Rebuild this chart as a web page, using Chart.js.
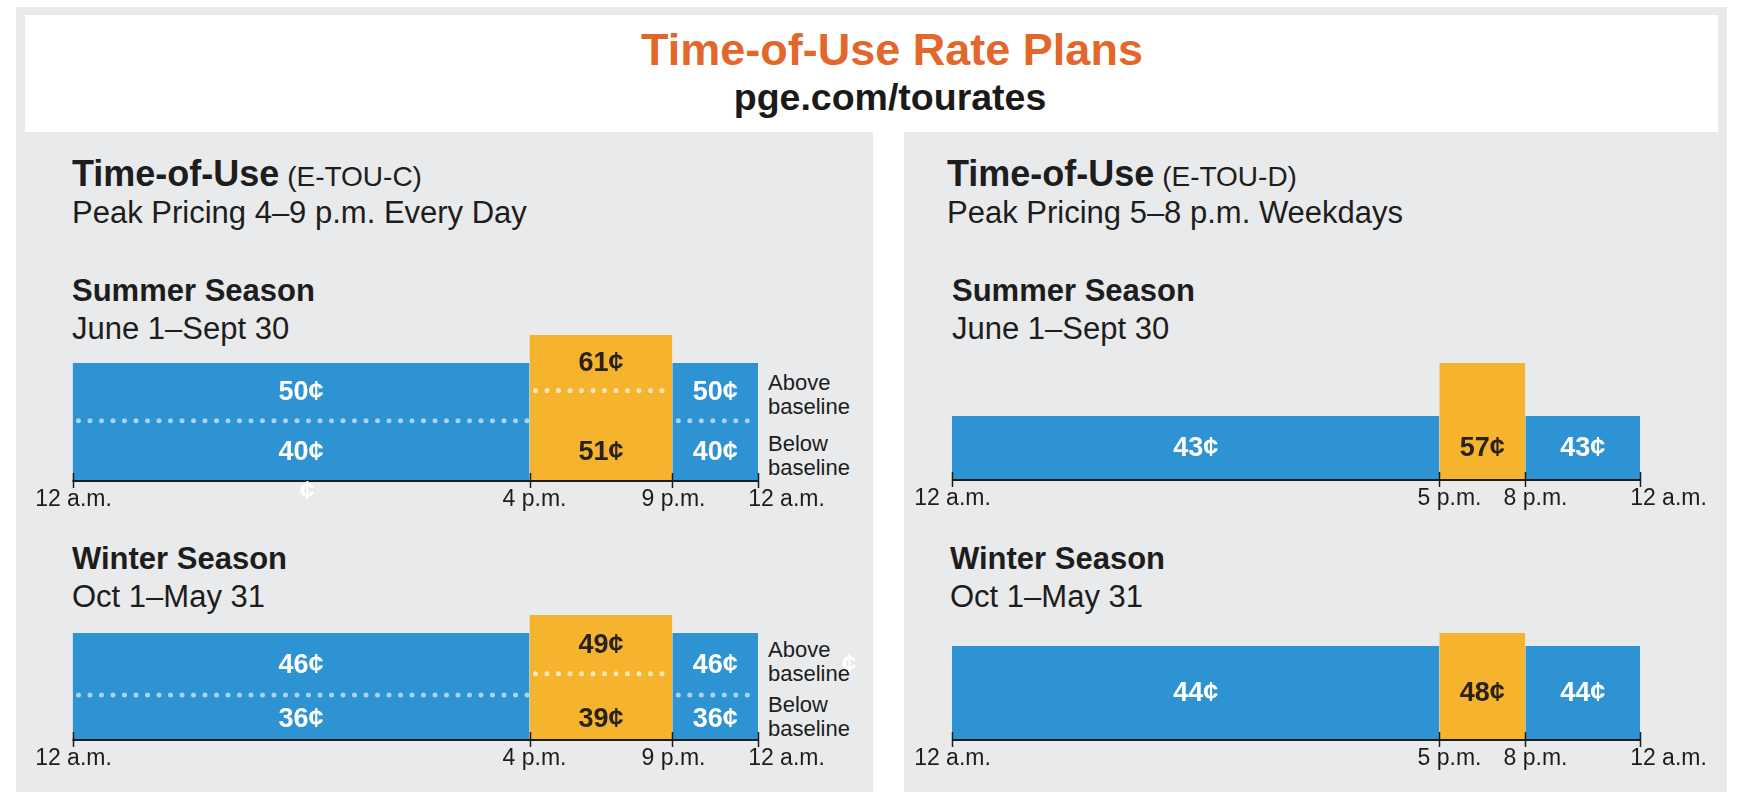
<!DOCTYPE html>
<html>
<head>
<meta charset="utf-8">
<title>Time-of-Use Rate Plans</title>
<script src="https://cdn.jsdelivr.net/npm/chart.js@4.4.1/dist/chart.umd.min.js"></script>
<style>
  html, body{margin:0;padding:0;}
  body{
    width:1750px;height:798px;overflow:hidden;position:relative;background:#fff;
    font-family:"Liberation Sans", Arial, Helvetica, sans-serif;color:#1d1d1d;
  }
  .abs{position:absolute;white-space:nowrap;line-height:1;}
  .frame{position:absolute;left:16px;top:7px;width:1711px;height:785px;background:#e9eaeb;}
  .head{position:absolute;left:25px;top:15px;width:1693px;height:117px;background:#fff;}
  .sep{position:absolute;left:873px;top:132px;width:31px;height:660px;background:#fff;}
  .big{font-size:36px;font-weight:bold;}
  .code{font-size:28px;font-weight:normal;}
  .sub{font-size:31px;}
  .season{font-size:31px;font-weight:bold;}
  .tier{font-size:22px;line-height:24px;}
  canvas{position:absolute;display:block;}
</style>
</head>
<body>

<div class="frame"></div>
<div class="head"></div>
<div class="sep"></div>

<div class="abs" style="left:392px;top:27px;width:1000px;text-align:center;font-size:45px;font-weight:bold;color:#e3672b;">Time-of-Use Rate Plans</div>
<div class="abs" style="left:390px;top:79px;width:1000px;text-align:center;font-size:37.5px;font-weight:bold;color:#1a1a1a;">pge.com/tourates</div>

<!-- left plan -->
<div class="abs big" style="left:72px;top:155.5px;">Time-of-Use<span class="code"> (E-TOU-C)</span></div>
<div class="abs sub" style="left:72px;top:197px;">Peak Pricing 4–9 p.m. Every Day</div>
<div class="abs season" style="left:72px;top:275px;">Summer Season</div>
<div class="abs sub" style="left:72px;top:313px;">June 1–Sept 30</div>
<div class="abs season" style="left:72px;top:543px;">Winter Season</div>
<div class="abs sub" style="left:72px;top:581px;">Oct 1–May 31</div>

<div class="abs tier" style="left:768px;top:371px;">Above<br>baseline</div>
<div class="abs tier" style="left:768px;top:432px;">Below<br>baseline</div>
<div class="abs tier" style="left:768px;top:638px;">Above<br>baseline</div>
<div class="abs tier" style="left:768px;top:693px;">Below<br>baseline</div>

<!-- right plan -->
<div class="abs big" style="left:947px;top:155.5px;">Time-of-Use<span class="code"> (E-TOU-D)</span></div>
<div class="abs sub" style="left:947px;top:197px;">Peak Pricing 5–8 p.m. Weekdays</div>
<div class="abs season" style="left:952px;top:275px;">Summer Season</div>
<div class="abs sub" style="left:952px;top:313px;">June 1–Sept 30</div>
<div class="abs season" style="left:950px;top:543px;">Winter Season</div>
<div class="abs sub" style="left:950px;top:581px;">Oct 1–May 31</div>

<canvas id="cSummer" width="850" height="215" style="left:20px;top:315px;"></canvas>
<canvas id="cWinter" width="850" height="195" style="left:20px;top:595px;"></canvas>
<canvas id="dSummer" width="823" height="187" style="left:904px;top:343px;"></canvas>
<canvas id="dWinter" width="823" height="177" style="left:904px;top:613px;"></canvas>

<!-- stray cent marks from the original artwork -->
<div class="abs" style="left:300px;top:477px;font-size:26px;font-weight:bold;color:#fff;">¢</div>
<div class="abs" style="left:842px;top:650px;font-size:26px;font-weight:bold;color:#fff;">¢</div>

<script>
// =========================
// DATA
// =========================

// hour of day where each period starts / ends (0 = 12 a.m.)
const hoursC = [0, 16, 21, 24];
const hoursD = [0, 17, 20, 24];

const tickLabelsC = ["12 a.m.", "4 p.m.", "9 p.m.", "12 a.m."];
const tickLabelsD = ["12 a.m.", "5 p.m.", "8 p.m.", "12 a.m."];

// cents per kWh : off-peak, peak, off-peak
const summerAboveC = [50, 61, 50];
const summerBelowC = [40, 51, 40];
const winterAboveC = [46, 49, 46];
const winterBelowC = [36, 39, 36];

const summerD = [43, 57, 43];
const winterD = [44, 48, 44];

const peakIndex = 1;

// =========================
// STYLE
// =========================

const BLUE = "#2d93d3";
const ORANGE = "#f5b32e";
const DOT_BLUE = "#a6d5f3";
const DOT_ORANGE = "#fde8b6";
const INK = "#1d1d1d";
const FONT = '"Liberation Sans", Arial, Helvetica, sans-serif';

const charts = [
  {id:"cSummer", hours:hoursC, ticks:tickLabelsC, tops:summerAboveC, below:summerBelowC,
   yMin:3.6, pad:{left:52.5, right:112, top:20, bottom:49},
   dotBlue:0.51, dotPeak:0.62, tickShift:[0, 4, 1, 28]},
  {id:"cWinter", hours:hoursC, ticks:tickLabelsC, tops:winterAboveC, below:winterBelowC,
   yMin:28.2, pad:{left:52.5, right:112, top:20, bottom:50},
   dotBlue:0.42, dotPeak:0.53, tickShift:[0, 4, 1, 28]},
  {id:"dSummer", hours:hoursD, ticks:tickLabelsD, tops:summerD, below:null,
   yMin:26.1, pad:{left:48, right:87, top:20, bottom:50},
   tickShift:[0, 10, 10, 28]},
  {id:"dWinter", hours:hoursD, ticks:tickLabelsD, tops:winterD, below:null,
   yMin:15.1, pad:{left:48, right:87, top:20, bottom:50},
   tickShift:[0, 10, 10, 28]}
];

// =========================
// CHART
// =========================

function dotValue(c, i){
  const f = i === peakIndex ? c.dotPeak : c.dotBlue;
  return c.yMin + f * (c.tops[i] - c.yMin);
}

function buildDatasets(c){

  const ds = [];

  c.tops.forEach((v, i) => {
    ds.push({
      data:[{x:c.hours[i], y:v}, {x:c.hours[i+1], y:v}],
      fill:"start",
      backgroundColor: i === peakIndex ? ORANGE : BLUE,
      borderWidth:0,
      pointRadius:0,
      order:1
    });
  });

  // dotted split between above / below baseline
  if(c.below){
    c.tops.forEach((v, i) => {
      const y = dotValue(c, i);
      ds.push({
        data:[{x:c.hours[i], y:y}, {x:c.hours[i+1], y:y}],
        fill:false,
        borderColor: i === peakIndex ? DOT_ORANGE : DOT_BLUE,
        borderWidth:5,
        borderDash:[0, 11.5],
        borderDashOffset:-6,
        borderCapStyle:"round",
        pointRadius:0,
        order:0
      });
    });
  }

  return ds;
}

function segLabels(c){
  return {
    id:"segLabels",
    afterDatasetsDraw(chart){
      const ctx = chart.ctx;
      const xs = chart.scales.x, ys = chart.scales.y;
      const axisY = ys.getPixelForValue(c.yMin);

      ctx.save();
      ctx.font = "bold 27px " + FONT;
      ctx.textAlign = "center";
      ctx.textBaseline = "middle";

      c.tops.forEach((v, i) => {
        const xMid = (xs.getPixelForValue(c.hours[i]) + xs.getPixelForValue(c.hours[i+1])) / 2;
        ctx.fillStyle = i === peakIndex ? "#2a2117" : "#ffffff";

        if(c.below){
          const top = ys.getPixelForValue(v);
          const dot = ys.getPixelForValue(dotValue(c, i));
          const dotBase = ys.getPixelForValue(dotValue(c, 0));
          ctx.fillText(v + "¢", xMid, (top + dot) / 2 + 1);
          ctx.fillText(c.below[i] + "¢", xMid, (dotBase + axisY) / 2 + 2);
        } else {
          const top = ys.getPixelForValue(c.tops[0]);
          ctx.fillText(v + "¢", xMid, (top + axisY) / 2 + 1);
        }
      });

      ctx.restore();
    }
  };
}

function timeAxis(c){
  return {
    id:"timeAxis",
    afterDraw(chart){
      const ctx = chart.ctx;
      const xs = chart.scales.x, ys = chart.scales.y;
      const axisY = ys.getPixelForValue(c.yMin);
      const first = c.hours[0], last = c.hours[c.hours.length - 1];

      ctx.save();
      ctx.strokeStyle = INK;
      ctx.lineWidth = 2;
      ctx.beginPath();
      ctx.moveTo(xs.getPixelForValue(first), axisY);
      ctx.lineTo(xs.getPixelForValue(last), axisY);
      ctx.stroke();

      ctx.lineWidth = 1.5;
      ctx.fillStyle = INK;
      ctx.font = "23px " + FONT;
      ctx.textAlign = "center";
      ctx.textBaseline = "alphabetic";

      c.hours.forEach((h, j) => {
        const x = Math.round(xs.getPixelForValue(h)) + 0.5;
        ctx.beginPath();
        ctx.moveTo(x, axisY - 8);
        ctx.lineTo(x, axisY + 7);
        ctx.stroke();
        ctx.fillText(c.ticks[j], x + c.tickShift[j], axisY + 25);
      });

      ctx.restore();
    }
  };
}

function initChart(c){

  const canvas = document.getElementById(c.id);
  if(!canvas) return;
  if(typeof Chart === "undefined") return;

  new Chart(canvas.getContext("2d"), {
    type:"line",
    data:{datasets: buildDatasets(c)},
    options:{
      responsive:false,
      animation:false,
      layout:{padding:c.pad},
      scales:{
        x:{type:"linear", min:c.hours[0], max:c.hours[c.hours.length - 1], display:false},
        y:{type:"linear", min:c.yMin, max:Math.max(...c.tops), display:false}
      },
      plugins:{legend:{display:false}, tooltip:{enabled:false}}
    },
    plugins:[segLabels(c), timeAxis(c)]
  });
}

charts.forEach(initChart);
</script>
</body>
</html>
